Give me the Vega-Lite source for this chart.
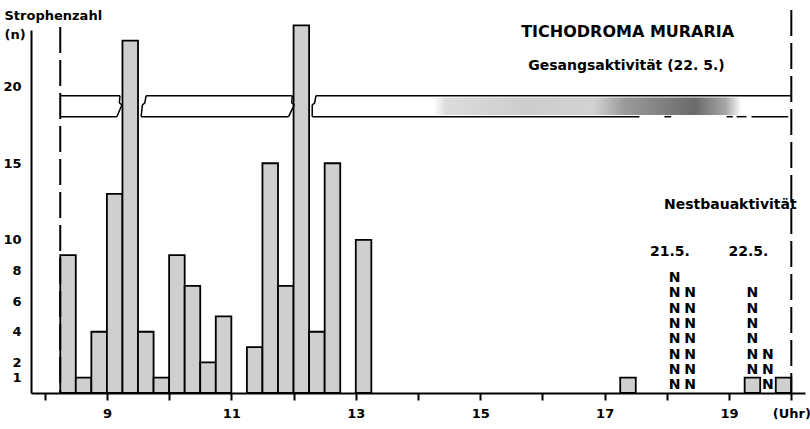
{
  "$schema": "https://vega.github.io/schema/vega-lite/v6.json",
  "width": 774,
  "height": 363,
  "autosize": {"type": "none"},
  "padding": {"left": 31, "top": 30, "right": 5, "bottom": 36},
  "background": "white",
  "config": {"view": {"stroke": null}, "font": "DejaVu Sans"},
  "datasets": {
    "bars": [
      {"start": 8.25, "end": 8.5, "n": 9},
      {"start": 8.5, "end": 8.75, "n": 1},
      {"start": 8.75, "end": 9.0, "n": 4},
      {"start": 9.0, "end": 9.25, "n": 13},
      {"start": 9.25, "end": 9.5, "n": 23},
      {"start": 9.5, "end": 9.75, "n": 4},
      {"start": 9.75, "end": 10.0, "n": 1},
      {"start": 10.0, "end": 10.25, "n": 9},
      {"start": 10.25, "end": 10.5, "n": 7},
      {"start": 10.5, "end": 10.75, "n": 2},
      {"start": 10.75, "end": 11.0, "n": 5},
      {"start": 11.25, "end": 11.5, "n": 3},
      {"start": 11.5, "end": 11.75, "n": 15},
      {"start": 11.75, "end": 12.0, "n": 7},
      {"start": 12.0, "end": 12.25, "n": 24},
      {"start": 12.25, "end": 12.5, "n": 4},
      {"start": 12.5, "end": 12.75, "n": 15},
      {"start": 13.0, "end": 13.25, "n": 10},
      {"start": 17.25, "end": 17.5, "n": 1},
      {"start": 19.25, "end": 19.5, "n": 1},
      {"start": 19.75, "end": 20.0, "n": 1}
    ],
    "nest": [
      {"t": 18.125, "lvl": 1}, {"t": 18.125, "lvl": 2}, {"t": 18.125, "lvl": 3}, {"t": 18.125, "lvl": 4},
      {"t": 18.125, "lvl": 5}, {"t": 18.125, "lvl": 6}, {"t": 18.125, "lvl": 7}, {"t": 18.125, "lvl": 8},
      {"t": 18.375, "lvl": 1}, {"t": 18.375, "lvl": 2}, {"t": 18.375, "lvl": 3}, {"t": 18.375, "lvl": 4},
      {"t": 18.375, "lvl": 5}, {"t": 18.375, "lvl": 6}, {"t": 18.375, "lvl": 7},
      {"t": 19.375, "lvl": 2}, {"t": 19.375, "lvl": 3}, {"t": 19.375, "lvl": 4},
      {"t": 19.375, "lvl": 5}, {"t": 19.375, "lvl": 6}, {"t": 19.375, "lvl": 7},
      {"t": 19.625, "lvl": 1}, {"t": 19.625, "lvl": 2}, {"t": 19.625, "lvl": 3}
    ],
    "bandLines": [
      {"from": 8.25, "to": 9.21, "n": 19.41},
      {"from": 9.63, "to": 11.98, "n": 19.41},
      {"from": 12.36, "to": 20.0, "n": 19.41},
      {"from": 8.25, "to": 9.16, "n": 18.04},
      {"from": 9.55, "to": 11.92, "n": 18.04},
      {"from": 12.3, "to": 17.56, "n": 18.04},
      {"from": 17.96, "to": 18.07, "n": 18.04},
      {"from": 18.96, "to": 19.06, "n": 18.04},
      {"from": 19.12, "to": 19.28, "n": 18.04},
      {"from": 19.36, "to": 19.95, "n": 18.04}
    ],
    "zigzag": [
      {"g": "a", "o": 1, "t": 9.21, "n": 19.41}, {"g": "a", "o": 2, "t": 9.2, "n": 18.95}, {"g": "a", "o": 3, "t": 9.24, "n": 18.8}, {"g": "a", "o": 4, "t": 9.16, "n": 18.04},
      {"g": "b", "o": 1, "t": 9.63, "n": 19.41}, {"g": "b", "o": 2, "t": 9.61, "n": 18.95}, {"g": "b", "o": 3, "t": 9.57, "n": 18.8}, {"g": "b", "o": 4, "t": 9.55, "n": 18.04},
      {"g": "c", "o": 1, "t": 11.98, "n": 19.41}, {"g": "c", "o": 2, "t": 11.97, "n": 18.95}, {"g": "c", "o": 3, "t": 12.01, "n": 18.8}, {"g": "c", "o": 4, "t": 11.92, "n": 18.04},
      {"g": "d", "o": 1, "t": 12.36, "n": 19.41}, {"g": "d", "o": 2, "t": 12.34, "n": 18.95}, {"g": "d", "o": 3, "t": 12.3, "n": 18.8}, {"g": "d", "o": 4, "t": 12.3, "n": 18.04}
    ],
    "gradientBand": [{"from": 14.25, "to": 19.2, "lo": 18.15, "hi": 19.3}],
    "markers": [{"t": 8.25, "top": 23.9}, {"t": 20.0, "top": 25.0}],
    "title": [
      {"t": 17.37, "n": 23.6, "label": "TICHODROMA  MURARIA"}
    ],
    "labels": [
      {"t": 17.35, "n": 21.37, "label": "Gesangsaktivität (22. 5.)"},
      {"t": 19.02, "n": 12.3, "label": "Nestbauaktivität"},
      {"t": 18.05, "n": 9.2, "label": "21.5."},
      {"t": 19.31, "n": 9.2, "label": "22.5."}
    ]
  },
  "layer": [
    {
      "data": {"name": "bars"},
      "mark": {"type": "rect", "fill": "#cfcfcf", "stroke": "black", "strokeWidth": 1.8},
      "encoding": {
        "x": {
          "field": "start", "type": "quantitative",
          "scale": {"domain": [7.78, 20.22], "nice": false, "zero": false},
          "axis": {
            "values": [8, 9, 10, 11, 12, 13, 14, 15, 16, 17, 18, 19, 20],
            "format": "d",
            "labelExpr": "datum.value == 20 ? '(Uhr)' : (datum.value % 2 == 1 ? datum.label : '')",
            "title": null, "grid": false, "domainColor": "black", "domainWidth": 2,
            "tickColor": "black", "tickWidth": 2, "tickSize": 7, "labelPadding": 7,
            "labelFont": "DejaVu Sans", "labelFontSize": 13, "labelFontWeight": "bold", "labelColor": "black",
            "labelOverlap": false, "labelFlush": false
          }
        },
        "x2": {"field": "end"},
        "y": {
          "field": "n", "type": "quantitative",
          "scale": {"domain": [0, 23.7], "nice": false},
          "axis": {
            "values": [1, 2, 4, 6, 8, 10, 15, 20],
            "ticks": false, "grid": false, "domainColor": "black", "domainWidth": 2,
            "labelPadding": 10, "labelFont": "DejaVu Sans", "labelFontSize": 13, "labelFontWeight": "bold",
            "labelColor": "black", "labelOverlap": false,
            "title": ["Strophenzahl", "(n)"], "titleAngle": 0, "titleAlign": "left",
            "titleBaseline": "alphabetic", "titleX": -27, "titleY": -11, "titleLineHeight": 19,
            "titleFont": "DejaVu Sans", "titleFontSize": 13, "titleFontWeight": "bold", "titleColor": "black"
          }
        },
        "y2": {"datum": 0}
      }
    },
    {
      "data": {"name": "gradientBand"},
      "mark": {
        "type": "rect",
        "fill": {
          "gradient": "linear", "x1": 0, "y1": 0, "x2": 1, "y2": 0,
          "stops": [
            {"offset": 0, "color": "#ffffff"},
            {"offset": 0.04, "color": "#dcdcdc"},
            {"offset": 0.3, "color": "#cdcdcd"},
            {"offset": 0.52, "color": "#d2d2d2"},
            {"offset": 0.62, "color": "#9a9a9a"},
            {"offset": 0.85, "color": "#6a6a6a"},
            {"offset": 0.95, "color": "#a8a8a8"},
            {"offset": 1, "color": "#ffffff"}
          ]
        }
      },
      "encoding": {
        "x": {"field": "from", "type": "quantitative"},
        "x2": {"field": "to"},
        "y": {"field": "lo", "type": "quantitative"},
        "y2": {"field": "hi"}
      }
    },
    {
      "data": {"name": "bandLines"},
      "mark": {"type": "rule", "stroke": "black", "strokeWidth": 1.5},
      "encoding": {
        "x": {"field": "from", "type": "quantitative"},
        "x2": {"field": "to"},
        "y": {"field": "n", "type": "quantitative"}
      }
    },
    {
      "data": {"name": "zigzag"},
      "mark": {"type": "line", "stroke": "black", "strokeWidth": 1.5},
      "encoding": {
        "x": {"field": "t", "type": "quantitative"},
        "y": {"field": "n", "type": "quantitative"},
        "detail": {"field": "g"},
        "order": {"field": "o"}
      }
    },
    {
      "data": {"name": "markers"},
      "mark": {"type": "rule", "stroke": "black", "strokeWidth": 2, "strokeDash": [26, 7]},
      "encoding": {
        "x": {"field": "t", "type": "quantitative"},
        "y": {"field": "top", "type": "quantitative"},
        "y2": {"datum": 0}
      }
    },
    {
      "data": {"name": "nest"},
      "mark": {"type": "text", "text": "N", "font": "DejaVu Sans", "fontWeight": "bold", "fontSize": 14, "baseline": "middle", "align": "center", "dy": 7.6, "color": "black"},
      "encoding": {
        "x": {"field": "t", "type": "quantitative"},
        "y": {"field": "lvl", "type": "quantitative"}
      }
    },
    {
      "data": {"name": "title"},
      "mark": {"type": "text", "font": "DejaVu Sans", "fontWeight": "bold", "fontSize": 16, "baseline": "middle", "align": "center", "color": "black"},
      "encoding": {
        "x": {"field": "t", "type": "quantitative"},
        "y": {"field": "n", "type": "quantitative"},
        "text": {"field": "label"}
      }
    },
    {
      "data": {"name": "labels"},
      "mark": {"type": "text", "font": "DejaVu Sans", "fontWeight": "bold", "fontSize": 14, "baseline": "middle", "align": "center", "color": "black"},
      "encoding": {
        "x": {"field": "t", "type": "quantitative"},
        "y": {"field": "n", "type": "quantitative"},
        "text": {"field": "label"}
      }
    }
  ]
}
